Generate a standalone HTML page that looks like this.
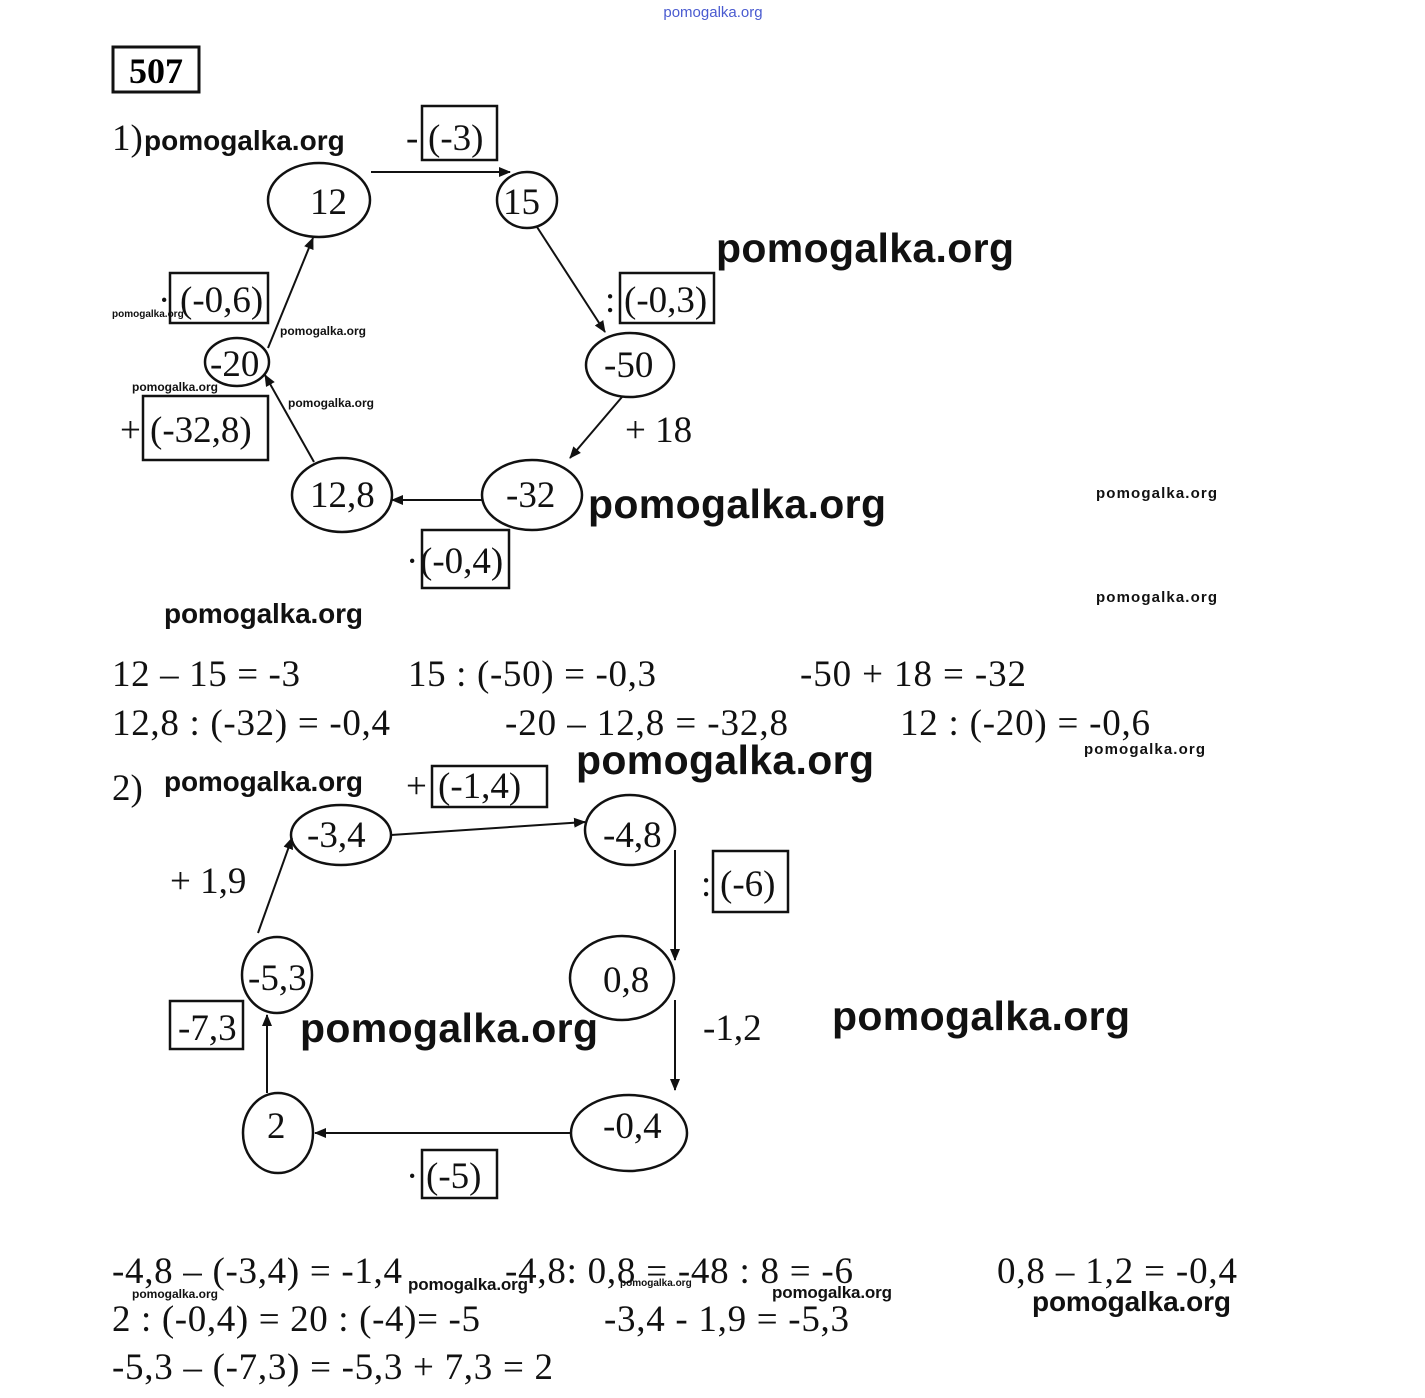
<!DOCTYPE html>
<html><head><meta charset="utf-8"><style>
body{margin:0;background:#fff}
svg{display:block}
.s{font-family:"Liberation Serif",serif;font-size:37px;fill:#111}
.w{font-family:"Liberation Sans",sans-serif;font-weight:bold;fill:#111}
</style></head><body>
<svg width="1425" height="1398" viewBox="0 0 1425 1398" xmlns="http://www.w3.org/2000/svg">
<defs><marker id="a" markerWidth="12" markerHeight="10" refX="11" refY="5" orient="auto" markerUnits="userSpaceOnUse"><path d="M0,0 L12,5 L0,10 z" fill="#111"/></marker></defs>
<text x="713" y="17" text-anchor="middle" font-family="Liberation Sans,sans-serif" font-size="15" fill="#4a5bd0">pomogalka.org</text>
<rect x="113" y="47" width="86" height="45" fill="none" stroke="#111" stroke-width="3"/>
<text x="156" y="83" text-anchor="middle" font-family="Liberation Serif,serif" font-weight="bold" font-size="36">507</text>
<g fill="none" stroke="#111" stroke-width="2.5">
<ellipse cx="319" cy="200" rx="51" ry="37"/><ellipse cx="527" cy="200" rx="30" ry="28"/>
<ellipse cx="630" cy="365" rx="44" ry="32"/><ellipse cx="532" cy="495" rx="50" ry="35"/>
<ellipse cx="342" cy="495" rx="50" ry="37"/><ellipse cx="237" cy="362" rx="32" ry="24"/>
<rect x="422" y="106" width="75" height="54"/><rect x="620" y="273" width="94" height="50"/>
<rect x="170" y="273" width="98" height="50"/><rect x="143" y="396" width="125" height="64"/>
<rect x="422" y="530" width="87" height="58"/>
<ellipse cx="341" cy="835" rx="50" ry="30"/><ellipse cx="630" cy="830" rx="45" ry="35"/>
<ellipse cx="622" cy="978" rx="52" ry="42"/><ellipse cx="629" cy="1133" rx="58" ry="38"/>
<ellipse cx="278" cy="1133" rx="35" ry="40"/><ellipse cx="277" cy="975" rx="35" ry="38"/>
<rect x="432" y="766" width="115" height="41"/><rect x="713" y="851" width="75" height="61"/>
<rect x="170" y="1001" width="73" height="48"/><rect x="422" y="1150" width="75" height="48"/>
</g>
<g stroke="#111" stroke-width="2" marker-end="url(#a)">
<line x1="371" y1="172" x2="510" y2="172"/><line x1="537" y1="227" x2="605" y2="332"/>
<line x1="622" y1="397" x2="570" y2="458"/><line x1="482" y1="500" x2="392" y2="500"/>
<line x1="314" y1="462" x2="265" y2="375"/><line x1="268" y1="348" x2="313" y2="238"/>
<line x1="391" y1="835" x2="585" y2="822"/><line x1="675" y1="850" x2="675" y2="960"/>
<line x1="675" y1="1000" x2="675" y2="1090"/><line x1="570" y1="1133" x2="315" y2="1133"/>
<line x1="267" y1="1093" x2="267" y2="1015"/><line x1="258" y1="933" x2="292" y2="838"/>
</g>
<g class="s">
<text x="112" y="150">1)</text>
<text x="310" y="214">12</text><text x="503" y="214">15</text><text x="604" y="377">-50</text>
<text x="506" y="507">-32</text><text x="310" y="507">12,8</text><text x="210" y="376">-20</text>
<text x="406" y="150">-</text><text x="428" y="150">(-3)</text>
<text x="605" y="312">:</text><text x="624" y="312">(-0,3)</text>
<text x="158" y="312">·</text><text x="180" y="312">(-0,6)</text>
<text x="120" y="442">+</text><text x="150" y="442">(-32,8)</text>
<text x="406" y="573">·</text><text x="420" y="573">(-0,4)</text>
<text x="625" y="442">+ 18</text>
<text x="112" y="686" textLength="188">12 – 15 = -3</text><text x="408" y="686" textLength="248">15 : (-50) = -0,3</text><text x="800" y="686" textLength="226">-50 + 18 = -32</text>
<text x="112" y="735" textLength="278">12,8 : (-32) = -0,4</text><text x="505" y="735" textLength="283">-20 – 12,8 = -32,8</text><text x="900" y="735" textLength="250">12 : (-20) = -0,6</text>
<text x="112" y="800">2)</text>
<text x="307" y="847">-3,4</text><text x="603" y="847">-4,8</text><text x="603" y="992">0,8</text>
<text x="603" y="1138">-0,4</text><text x="267" y="1138">2</text><text x="248" y="990">-5,3</text>
<text x="406" y="798">+</text><text x="438" y="798">(-1,4)</text>
<text x="701" y="896">:</text><text x="720" y="896">(-6)</text>
<text x="178" y="1040">-7,3</text>
<text x="406" y="1188">·</text><text x="426" y="1188">(-5)</text>
<text x="170" y="893">+ 1,9</text><text x="703" y="1040">-1,2</text>
<text x="112" y="1283" textLength="290">-4,8 – (-3,4) = -1,4</text><text x="505" y="1283" textLength="348">-4,8: 0,8 = -48 : 8 = -6</text><text x="997" y="1283" textLength="240">0,8 – 1,2 = -0,4</text>
<text x="112" y="1331" textLength="368">2 : (-0,4) = 20 : (-4)= -5</text><text x="604" y="1331" textLength="245">-3,4 - 1,9 = -5,3</text>
<text x="112" y="1379" textLength="441">-5,3 – (-7,3) = -5,3 + 7,3 = 2</text>
</g>
<g class="w">
<text x="144" y="150" font-size="28">pomogalka.org</text>
<text x="716" y="262" font-size="41" textLength="298">pomogalka.org</text>
<text x="112" y="317" font-size="10">pomogalka.org</text>
<text x="280" y="335" font-size="12">pomogalka.org</text>
<text x="132" y="391" font-size="12">pomogalka.org</text>
<text x="288" y="407" font-size="12">pomogalka.org</text>
<text x="588" y="518" font-size="41" textLength="298">pomogalka.org</text>
<text x="1096" y="498" font-size="15" textLength="121">pomogalka.org</text>
<text x="1096" y="602" font-size="15" textLength="121">pomogalka.org</text>
<text x="164" y="623" font-size="28" textLength="199">pomogalka.org</text>
<text x="576" y="774" font-size="41" textLength="298">pomogalka.org</text>
<text x="1084" y="754" font-size="15" textLength="121">pomogalka.org</text>
<text x="164" y="791" font-size="28" textLength="199">pomogalka.org</text>
<text x="300" y="1042" font-size="41" textLength="298">pomogalka.org</text>
<text x="832" y="1030" font-size="41" textLength="298">pomogalka.org</text>
<text x="132" y="1298" font-size="12">pomogalka.org</text>
<text x="408" y="1290" font-size="17" textLength="120">pomogalka.org</text>
<text x="620" y="1286" font-size="10">pomogalka.org</text>
<text x="772" y="1298" font-size="17" textLength="120">pomogalka.org</text>
<text x="1032" y="1311" font-size="28" textLength="199">pomogalka.org</text>
</g>
</svg>
</body></html>
